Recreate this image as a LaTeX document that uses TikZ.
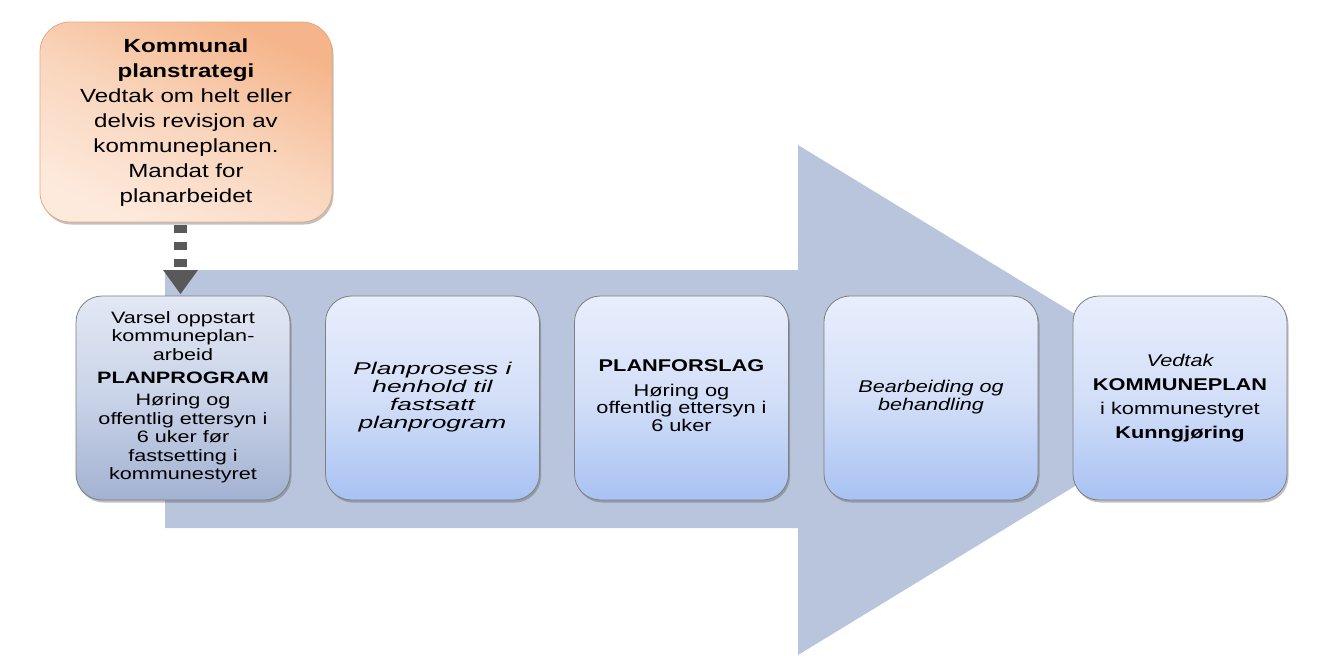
\documentclass[tikz,border=0pt]{standalone}
\usepackage{fontspec}
\setmainfont{Liberation Sans}
\usepackage{graphicx}
\usetikzlibrary{shadows,calc}
\definecolor{arrowc}{HTML}{B8C5DC}
\definecolor{boxtop}{HTML}{E8EEFC}
\definecolor{boxmid}{HTML}{D3DFF8}
\definecolor{boxbot}{HTML}{A8C2F3}
\definecolor{graytop}{HTML}{E2E8F4}
\definecolor{graymid}{HTML}{C9D3E8}
\definecolor{graybot}{HTML}{A3B2D2}
\definecolor{ortop}{HTML}{F5B489}
\definecolor{ormid}{HTML}{F9D5BC}
\definecolor{orbot}{HTML}{FDEADD}
\definecolor{orline}{HTML}{E6A880}
\definecolor{conc}{HTML}{595959}
\definecolor{boxline}{HTML}{7F7F7F}
\newcommand{\wtxt}[4]{\scalebox{#1}[1]{\fontsize{#2}{#3}\selectfont\begin{tabular}{@{}c@{}}#4\end{tabular}}}
\tikzset{
  shade/.style={drop shadow={opacity=0.35,shadow xshift=1.5pt,shadow yshift=-2.5pt,fill=black!70}},
  stagebox/.style={shade,draw=boxline,line width=0.8pt,rounded corners=26pt,
    minimum width=214pt,minimum height=204pt,inner sep=0pt,
    top color=boxtop,bottom color=boxbot,middle color=boxmid},
  firstbox/.style={stagebox,top color=graytop,bottom color=graybot,middle color=graymid},
  stratbox/.style={shade,draw=orline,line width=0.8pt,rounded corners=30pt,
    minimum width=292pt,minimum height=200pt,inner sep=0pt,
    top color=ortop,bottom color=orbot,middle color=ormid,shading angle=-25},
  dashconn/.style={draw=conc,line width=13pt,dash pattern=on 8pt off 9pt},
}
\begin{document}
\begin{tikzpicture}[x=1pt,y=-1pt]
\useasboundingbox (0,0) rectangle (1319,659);
\fill[white] (0,0) rectangle (1319,659);
% big arrow
\fill[arrowc] (165,270) -- (798,270) -- (798,145) -- (1216,400) -- (798,655) -- (798,528) -- (165,528) -- cycle;
% strategy box
\node[stratbox] (strategi) at (186,122) {\wtxt{1.27}{19}{25}{\textbf{Kommunal}\\ \textbf{planstrategi}\\ Vedtak om helt eller\\ delvis revisjon av\\ kommuneplanen.\\ Mandat for\\ planarbeidet}};
% connector
\coordinate (ctip) at (180.5,268);
\draw[dashconn] (strategi.south -| ctip) ++(0,3) -- (ctip);
\fill[conc] ($(ctip)+(-17.5,2)$) -- ($(ctip)+(17.5,2)$) -- ($(ctip)+(0,26)$) -- cycle;
% stage boxes
\node[firstbox] (b1) at (183,398) {\raisebox{-2pt}{\wtxt{1.31}{16.5}{18.5}{Varsel oppstart\\ kommuneplan-\\ arbeid\\[4.5pt] \textbf{PLANPROGRAM}\\[4pt] Høring og\\ offentlig ettersyn i\\ 6 uker før\\ fastsetting i\\ kommunestyret}}};
\node[stagebox] (b2) at (432.5,398) {\wtxt{1.55}{17}{17.8}{\itshape Planprosess i\\ \itshape henhold til\\ \itshape fastsatt\\ \itshape planprogram}};
\node[stagebox] (b3) at (681.5,398) {\raisebox{2pt}{\wtxt{1.28}{17}{17.5}{\textbf{PLANFORSLAG}\\[7pt] Høring og\\ offentlig ettersyn i\\ 6 uker}}};
\node[stagebox] (b4) at (931,398) {\wtxt{1.27}{17}{18}{\itshape Bearbeiding og\\ \itshape behandling}};
\node[stagebox] (b5) at (1180,398) {\wtxt{1.28}{17}{24}{\itshape Vedtak\\ \textbf{KOMMUNEPLAN}\\ i kommunestyret\\ \textbf{Kunngjøring}}};
\end{tikzpicture}
\end{document}
